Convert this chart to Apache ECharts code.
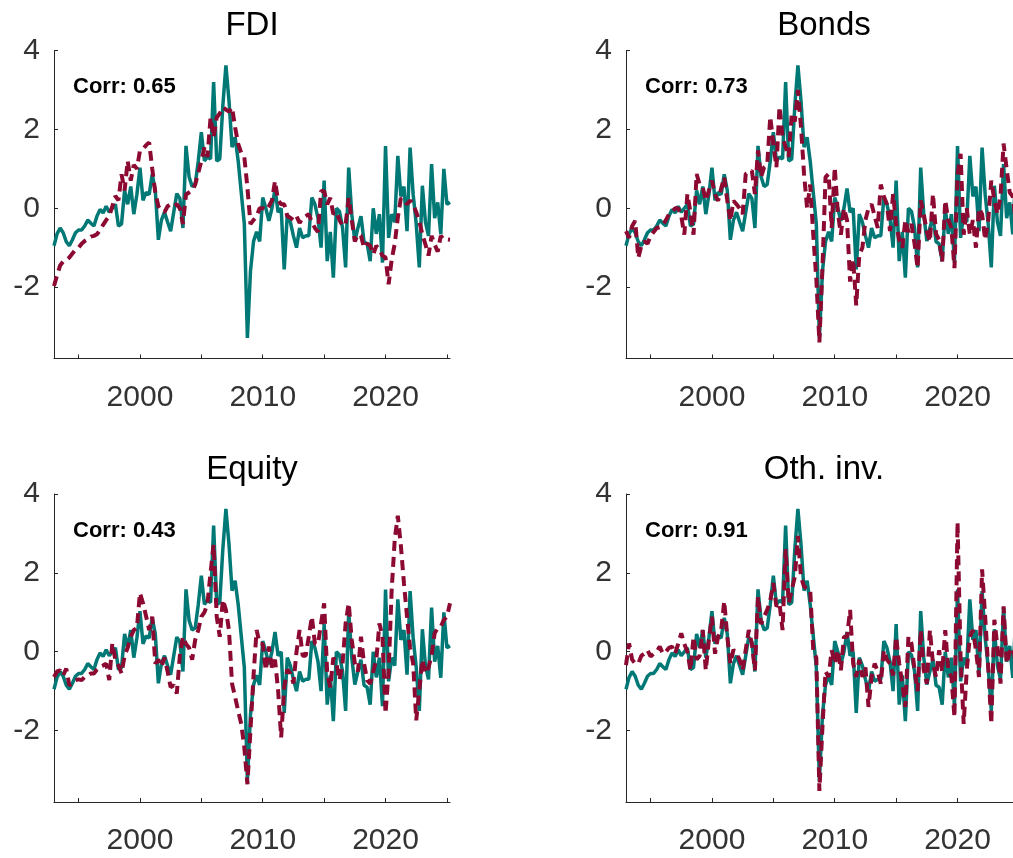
<!DOCTYPE html>
<html>
<head>
<meta charset="utf-8">
<title>Capital flows and the common factor</title>
<script src="https://cdn.jsdelivr.net/npm/echarts@6/dist/echarts.min.js"></script>
<style>
  html, body { margin: 0; padding: 0; background: #fff; }
  #chart { width: 1013px; height: 858px; }
</style>
</head>
<body>
<div id="chart"></div>
<script>
// Quarterly observations, 1993Q1 .. 2025Q2
const startYear = 1993;

// Common factor (solid teal line, identical in every panel)
const commonFactor = [
  -0.95, -0.65, -0.50, -0.62,   // 1993
  -0.85, -0.95, -0.80, -0.62,   // 1994
  -0.55, -0.55, -0.45, -0.30,   // 1995
  -0.38, -0.45, -0.20, -0.03,   // 1996
  -0.12,  0.05, -0.10,  0.00,   // 1997
   0.10, -0.45, -0.40,  0.45,   // 1998
   0.10,  0.55, -0.15,  0.35,   // 1999
   1.03,  0.20,  0.40,  0.35,   // 2000
   0.86,  0.45, -0.80, -0.30,   // 2001
  -0.10, -0.35, -0.58, -0.10,   // 2002
   0.37,  0.25, -0.50,  1.58,   // 2003
   0.80,  0.55,  0.60,  1.20,   // 2004
   1.93,  1.20,  1.30,  1.25,   // 2005
   3.20,  1.20,  1.25,  2.60,   // 2006
   3.62,  2.73,  1.55,  1.80,   // 2007
   1.20,  0.40, -0.40, -3.29,   // 2008
  -1.60, -0.84, -0.60, -0.84,   // 2009
   0.27,  0.00, -0.32,  0.00,   // 2010
   0.50, -0.10,  0.00, -1.55,   // 2011
  -0.15, -0.35, -0.70, -1.00,   // 2012
  -0.50, -0.75, -0.70, -0.70,   // 2013
   0.27,  0.10, -0.25, -1.00,   // 2014
   0.70, -1.34, -0.60, -1.76,   // 2015
   0.00, -0.08, -0.50, -1.50,   // 2016
   1.03, -0.15, -0.83, -0.50,   // 2017
  -0.20, -0.85, -0.90, -1.34,   // 2018
   0.00, -0.65, -0.15, -1.38,   // 2019
   1.58, -0.75, -0.15, -0.35,   // 2020
   1.33,  0.30,  0.55, -0.58,   // 2021
   1.54,  0.35, -0.40, -1.50,   // 2022
   0.57, -0.35, -0.70,  1.12,   // 2023
  -0.25,  0.15, -0.66,  1.00,   // 2024
   0.10,  0.15                  // 2025
];

// Flow-specific series (dashed maroon lines)
const fdiFlows = [
  -1.97, -1.70, -1.45, -1.35,
  -1.32, -1.25, -1.15, -1.05,
  -1.00, -0.90, -0.83, -0.78,
  -0.72, -0.70, -0.66, -0.55,
  -0.42, -0.30, -0.20,  0.05,
   0.31,  0.20,  0.86,  0.45,
   1.20,  0.70,  1.10,  1.00,
   1.46,  1.50,  1.60,  1.67,
   1.00,  0.40,  0.05, -0.07,
  -0.10,  0.05,  0.10,  0.05,
   0.10,  0.00, -0.40,  0.35,
   0.40,  0.45,  0.60,  0.90,
   1.20,  1.54,  1.30,  2.30,
   1.80,  2.30,  2.40,  2.56,
   2.50,  2.45,  2.56,  2.05,
   1.63,  1.40,  1.30,  0.53,
  -0.40, -0.30, -0.20,  0.00,
   0.00, -0.05,  0.05,  0.20,
   0.69,  0.20,  0.10,  0.10,
  -0.20, -0.24, -0.30, -0.20,
  -0.37, -0.25, -0.20, -0.15,
  -0.35, -0.50, -0.60,  0.44,
   0.43,  0.10,  0.26, -0.15,
  -0.10, -0.30, -0.45, -0.40,
   0.26, -0.30, -0.84, -0.66,
  -0.70, -1.00, -0.90, -0.95,
  -1.17, -0.95, -1.05, -1.20,
  -1.25, -1.93, -1.30, -0.90,
  -0.24,  0.26,  0.20,  0.10,
   0.20,  0.10, -0.10, -0.33,
  -0.66, -0.92, -1.20, -0.70,
  -0.92, -1.10, -0.70, -0.80,
  -0.79, -0.80
];

const bondFlows = [
  -0.58, -0.75, -0.45, -0.32,
  -1.26, -0.95, -0.84, -0.90,
  -0.70, -0.60, -0.50, -0.48,
  -0.43, -0.30, -0.15, -0.10,
   0.00,  0.00, -0.20, -0.67,
   0.36, -0.10, -0.67,  0.87,
   0.60,  0.53,  0.19,  0.45,
   0.70,  0.35,  0.19,  0.50,
   0.79,  0.19, -0.32,  0.19,
   0.10,  0.00, -0.15,  0.87,
   0.90,  0.96,  0.36,  1.47,
   0.79,  1.04,  1.10,  2.32,
   1.64,  1.04,  2.58,  1.80,
   1.55,  1.30,  2.40,  2.20,
   3.00,  2.07,  0.87,  0.00,
   0.60, -0.67, -1.80, -3.40,
  -1.50,  0.79,  0.87, -0.50,
   1.04, -0.10, -0.67,  0.00,
  -0.30, -1.86, -1.30, -2.46,
  -1.18, -1.00, -0.30,  0.00,
   0.10, -0.20, -0.50,  0.60,
   0.30,  0.10, -0.58,  0.36,
  -0.40, -0.80, -1.00, -0.30,
  -0.60, -0.40, -0.90, -1.52,
   0.20, -0.15, -0.60, -0.85,
   0.36, -0.65, -0.80, -1.35,
   0.20, -0.30, -0.50, -1.52,
   0.87,  1.38, -0.67,  0.00,
  -0.67, -0.30, -1.00,  0.00,
  -0.15, -0.80, -0.30,  0.70,
   0.20, -0.15,  0.30,  1.64,
   1.00,  0.40,  0.30, -0.40,
   0.50,  0.30
];

const equityFlows = [
  -0.64, -0.50, -0.47, -0.60,
  -0.43, -0.85, -0.80, -0.72,
  -0.70, -0.72, -0.64, -0.60,
  -0.55, -0.55, -0.45, -0.38,
  -0.35, -0.30, -0.72,  0.21,
  -0.21, -0.35, -0.55, -0.10,
   0.10,  0.38,  0.55,  0.60,
   1.49,  1.23,  0.90,  0.55,
   0.89, -0.30, -0.20, -0.38,
  -0.15, -0.50, -0.90, -0.85,
  -1.06, -0.10,  0.38,  0.20,
   0.10, -0.20,  0.30,  0.55,
   0.89,  1.00,  1.23,  2.00,
   2.72,  0.89,  0.38,  1.32,
   1.06,  0.55, -0.81, -1.15,
  -1.50, -1.83, -2.43, -3.36,
  -2.00, -0.60,  0.55,  0.21,
   0.20, -0.47,  0.13, -0.40,
  -0.20, -0.98, -2.17, -0.90,
  -0.45, -0.55, -0.80,  0.00,
   0.55, -0.10, -0.10,  0.38,
   0.89,  0.20,  0.20,  0.72,
   1.23, -0.55, -0.90, -0.15,
  -0.30, -0.72, -0.30,  0.72,
   1.23,  0.30, -0.30, -0.50,
   0.38, -0.30, -0.72, -0.81,
  -0.50, -0.20,  0.72,  0.38,
  -1.57, -0.50,  1.57,  2.85,
   3.45,  2.68,  1.74,  0.89,
   0.10, -0.30, -1.74, -0.98,
  -0.20, -0.55, -0.40, -0.10,
   0.47,  0.60,  0.64,  0.81,
   0.89,  1.23
];

const otherFlows = [
  -0.34,  0.21, -0.20, -0.30,
  -0.30, -0.10, -0.05,  0.04,
  -0.12, -0.05,  0.00,  0.13,
  -0.05,  0.00,  0.10,  0.13,
  -0.05,  0.20,  0.47,  0.20,
   0.00, -0.47,  0.38, -0.20,
  -0.10,  0.55, -0.47,  0.30,
   0.89, -0.05,  0.38,  0.55,
   1.28,  0.38, -0.30,  0.05,
  -0.05, -0.20, -0.47,  0.05,
   0.55,  0.20, -0.47,  1.40,
   0.70,  0.89,  1.06,  1.30,
   1.74,  1.15,  1.23,  0.55,
   2.60,  1.23,  1.57,  1.90,
   2.94,  1.90,  1.65,  1.60,
   1.57,  0.04, -0.15, -3.53,
  -1.90, -0.50, -0.64,  0.04,
  -0.30,  0.04, -0.47,  0.38,
   0.38,  1.06, -0.30, -0.64,
  -0.20, -0.64, -0.40, -1.40,
  -0.64, -0.30, -0.50, -0.81,
   0.04, -0.20, -0.30, -0.60,
   0.38, -0.30, -0.81, -1.40,
   0.38,  0.21, -0.47, -1.00,
   0.55, -0.47, -0.81,  0.55,
  -0.30, -0.64,  0.04, -0.50,
   0.55, -0.47, -0.64, -1.66,
   3.28, -0.15, -1.83, -0.47,
   0.38,  0.55,  0.04, -0.64,
   2.09,  0.89, -0.40, -1.83,
   0.81,  0.13, -0.81,  1.15,
  -0.30,  0.00,  0.10, -0.30,
   0.20,  0.00
];

const panelTitles = ['FDI', 'Bonds', 'Equity', 'Oth. inv.'];
const correlations = ['0.65', '0.73', '0.43', '0.91'];
const flowSeries = [fdiFlows, bondFlows, equityFlows, otherFlows];

const xTickValues = [1995, 2000, 2005, 2010, 2015, 2020, 2025];
const xLabelValues = [2000, 2010, 2020];
const yTickValues = [-2, 0, 2, 4];

// Panel geometry (pixels); the right-hand panels run past the page edge
const panels = [
  { left: 54,  top: 50.5 },
  { left: 626, top: 50.5 },
  { left: 54,  top: 494 },
  { left: 626, top: 494 }
];
const panelWidth = 396;
const panelHeight = 308;

const teal = '#007875';
const maroon = '#8C0A32';
const axisColor = '#262626';
const font = '"Liberation Sans", Arial, sans-serif';

const toPairs = vals => vals.map((v, i) => [startYear + i * 0.25, v]);

const grids = [], xAxes = [], yAxes = [], series = [], graphics = [];

panels.forEach((p, k) => {
  grids.push({
    left: p.left, top: p.top, width: panelWidth, height: panelHeight,
    containLabel: false, outerBoundsMode: 'none'
  });

  xAxes.push({
    type: 'value', gridIndex: k, min: 1993, max: 2025.25,
    axisLine: { show: true, onZero: false, lineStyle: { color: axisColor, width: 1 } },
    axisTick: { show: true, inside: true, length: 4, customValues: xTickValues,
                lineStyle: { color: axisColor } },
    axisLabel: { show: true, customValues: xLabelValues, margin: 24,
                 formatter: v => String(v),
                 color: '#333', fontSize: 30, fontFamily: font },
    splitLine: { show: false }
  });

  yAxes.push({
    type: 'value', gridIndex: k, min: -3.81, max: 4,
    axisLine: { show: true, onZero: false, lineStyle: { color: axisColor, width: 1 } },
    axisTick: { show: true, inside: true, length: 4, customValues: yTickValues,
                lineStyle: { color: axisColor } },
    axisLabel: { show: true, customValues: yTickValues, margin: 14,
                 color: '#333', fontSize: 30, fontFamily: font },
    splitLine: { show: false }
  });

  series.push({
    type: 'line', xAxisIndex: k, yAxisIndex: k,
    data: toPairs(commonFactor), showSymbol: false, symbol: 'none',
    lineStyle: { color: teal, width: 3.5 }, z: 2
  });
  series.push({
    type: 'line', xAxisIndex: k, yAxisIndex: k,
    data: toPairs(flowSeries[k]), showSymbol: false, symbol: 'none',
    lineStyle: { color: maroon, width: 4, type: [10, 6] }, z: 3
  });

  graphics.push({
    type: 'text', x: p.left + panelWidth / 2, y: p.top - 24.5,
    style: { text: panelTitles[k], font: '33px ' + font, fill: '#000',
             textAlign: 'center', textVerticalAlign: 'middle' }
  });
  graphics.push({
    type: 'text', x: p.left + 19, y: p.top + 36.5,
    style: { text: 'Corr: ' + correlations[k], font: 'bold 22px ' + font, fill: '#000',
             textAlign: 'left', textVerticalAlign: 'middle' }
  });
});

const chart = echarts.init(document.getElementById('chart'), null, { renderer: 'canvas' });
chart.setOption({
  animation: false,
  backgroundColor: '#fff',
  grid: grids,
  xAxis: xAxes,
  yAxis: yAxes,
  series: series,
  graphic: graphics
});
</script>
</body>
</html>
